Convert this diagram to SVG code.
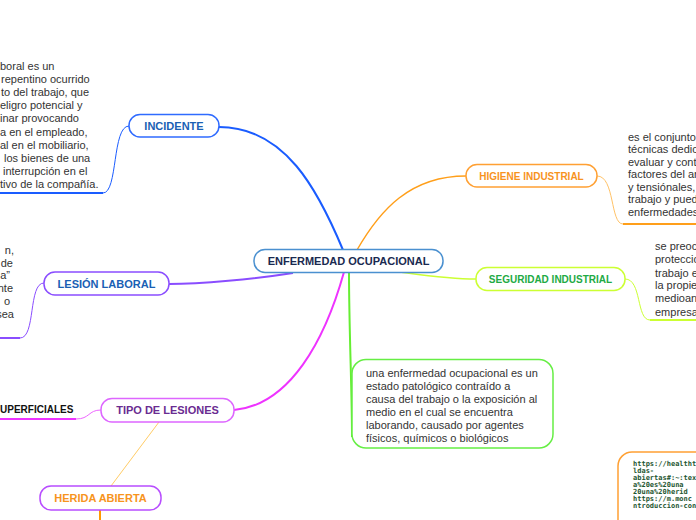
<svg xmlns="http://www.w3.org/2000/svg" width="696" height="520" viewBox="0 0 696 520">
<style>
.node{fill:#ffffff;stroke-width:1.5}
.lbl{font-family:"Liberation Sans",Arial,sans-serif;font-weight:bold;font-size:11px;text-anchor:middle}
.body{font-family:"Liberation Sans",Arial,sans-serif;font-size:11px;fill:#333333}
.url{font-family:"DejaVu Sans Mono","Liberation Mono",monospace;font-weight:bold;font-size:7px;fill:#1e5631}
.c{fill:none}
</style>
<rect width="696" height="520" fill="#ffffff"/>
<g id="connectors">
  <path class="c" d="M343,250 C318,190 285,127 219,127" stroke="#1a5cff" stroke-width="2"/>
  <path class="c" d="M129,126 C112,126 118,193 103,193" stroke="#1a5cff" stroke-width="1"/>
  <path class="c" d="M0,193 H103" stroke="#1a5cff" stroke-width="2"/>
  <path class="c" d="M293,273 C255,279 200,284 169,284" stroke="#8a4dff" stroke-width="2"/>
  <path class="c" d="M44,283 C28,283 36,338 20,338" stroke="#8a4dff" stroke-width="1"/>
  <path class="c" d="M0,338 H20" stroke="#8a4dff" stroke-width="2"/>
  <path class="c" d="M344,272 C325,340 290,405 234,410" stroke="#ee33ff" stroke-width="2"/>
  <path class="c" d="M101,410 C88,410 90,419 76,419" stroke="#ee66ff" stroke-width="1"/>
  <path class="c" d="M0,419 H76" stroke="#ee33ff" stroke-width="2"/>
  <path class="c" d="M159,422 L111,486" stroke="#ffcc66" stroke-width="1"/>
  <path class="c" d="M100,510 V520" stroke="#ff9900" stroke-width="2"/>
  <path class="c" d="M349,272 C349,330 352,390 352,437" stroke="#66ee33" stroke-width="2"/>
  <path class="c" d="M357,250 C380,210 410,176 466,176" stroke="#ff9f1a" stroke-width="1.5"/>
  <path class="c" d="M597,176 C615,176 610,224 623,224" stroke="#ffc266" stroke-width="1"/>
  <path class="c" d="M623,224 H696" stroke="#ff9f1a" stroke-width="2"/>
  <path class="c" d="M400,272 C430,276 450,279 476,279" stroke="#ccff33" stroke-width="1.5"/>
  <path class="c" d="M625,279 C642,279 636,320 650,320" stroke="#ccff33" stroke-width="1"/>
  <path class="c" d="M650,320 H696" stroke="#ccff33" stroke-width="2"/>
</g>
<g id="central">
  <rect class="node" x="254" y="249.5" width="189" height="23" rx="11" stroke="#4a90d0"/>
  <text class="lbl" x="348.5" y="265" fill="#1a2a50">ENFERMEDAD OCUPACIONAL</text>
</g>
<g id="incidente">
  <rect class="node" x="129" y="114.5" width="90" height="22.5" rx="11" stroke="#2f6bff"/>
  <text class="lbl" x="174" y="130" fill="#1a5fb4">INCIDENTE</text>
</g>
<g id="incidente-text">
  <text class="body" x="0" y="70">boral es un</text>
  <text class="body" x="1" y="83">repentino ocurrido</text>
  <text class="body" x="1" y="96">to del trabajo, que</text>
  <text class="body" x="0" y="109">eligro potencial y</text>
  <text class="body" x="0" y="122">inar provocando</text>
  <text class="body" x="0" y="136">a en el empleado,</text>
  <text class="body" x="0" y="149">al en el mobiliario,</text>
  <text class="body" x="4" y="162">los bienes de una</text>
  <text class="body" x="3" y="175">interrupción en el</text>
  <text class="body" x="0" y="188">tivo de la compañía.</text>
</g>
<g id="lesion-laboral">
  <rect class="node" x="44" y="272" width="125" height="23" rx="11" stroke="#8a4dff"/>
  <text class="lbl" x="106.5" y="287.5" fill="#1a5fb4">LESIÓN LABORAL</text>
</g>
<g id="lesion-text" style="text-anchor:end">
  <text class="body" x="14" y="254">n,</text>
  <text class="body" x="13" y="267">de</text>
  <text class="body" x="10" y="279">a”</text>
  <text class="body" x="13" y="292">nte</text>
  <text class="body" x="10" y="305">o</text>
  <text class="body" x="14" y="318">sea</text>
</g>
<g id="tipo-lesiones">
  <rect class="node" x="101" y="398.5" width="133" height="23.5" rx="11" stroke="#dd66ff"/>
  <text class="lbl" x="167.5" y="414" fill="#6a2c91">TIPO DE LESIONES</text>
</g>
<g id="superficiales">
  <text x="0" y="413" font-family="Liberation Sans, Arial, sans-serif" font-weight="bold" font-size="10px" fill="#111111">UPERFICIALES</text>
</g>
<g id="herida-abierta">
  <rect class="node" x="40" y="486" width="121" height="24" rx="11" stroke="#b84dff"/>
  <text class="lbl" x="100.5" y="502" fill="#f7941d">HERIDA ABIERTA</text>
</g>
<g id="higiene">
  <rect class="node" x="466" y="164.5" width="131" height="22.5" rx="11" stroke="#ffa033"/>
  <text class="lbl" x="531.5" y="179.5" fill="#f7931e" style="font-size:10px">HIGIENE INDUSTRIAL</text>
</g>
<g id="higiene-text">
  <text class="body" x="628" y="141">es el conjunto</text>
  <text class="body" x="628" y="153">técnicas dedic</text>
  <text class="body" x="628" y="166">evaluar y cont</text>
  <text class="body" x="628" y="178">factores del ar</text>
  <text class="body" x="628" y="191">y tensiónales,</text>
  <text class="body" x="628" y="203">trabajo y pued</text>
  <text class="body" x="628" y="216">enfermedades</text>
</g>
<g id="seguridad">
  <rect class="node" x="476" y="267.5" width="149" height="23" rx="11" stroke="#ccff33"/>
  <text class="lbl" x="550.5" y="282.5" fill="#22aa44" style="font-size:10px">SEGURIDAD INDUSTRIAL</text>
</g>
<g id="seguridad-text">
  <text class="body" x="655" y="250">se preoc</text>
  <text class="body" x="655" y="263">proteccio</text>
  <text class="body" x="655" y="277">trabajo e</text>
  <text class="body" x="655" y="289">la propie</text>
  <text class="body" x="655" y="302">medioan</text>
  <text class="body" x="655" y="316">empresa</text>
</g>
<g id="definicion">
  <rect class="node" x="352" y="359.5" width="201" height="88.5" rx="14" stroke="#66ee44"/>
  <text class="body" x="366" y="377">una enfermedad ocupacional es un</text>
  <text class="body" x="366" y="390">estado patológico contraído a</text>
  <text class="body" x="366" y="403">causa del trabajo o la exposición al</text>
  <text class="body" x="366" y="416">medio en el cual se encuentra</text>
  <text class="body" x="366" y="429">laborando, causado por agentes</text>
  <text class="body" x="366" y="442">físicos, químicos o biológicos</text>
</g>
<g id="fuentes">
  <rect class="node" x="618" y="452" width="110" height="100" rx="14" stroke="#ffa033"/>
  <text class="url" x="633" y="465.5">https://healtht</text>
  <text class="url" x="633" y="472.5">ldas-</text>
  <text class="url" x="633" y="480">abiertas#:~:text</text>
  <text class="url" x="633" y="487">a%20es%20una</text>
  <text class="url" x="633" y="494">20una%20herid</text>
  <text class="url" x="633" y="501">https://m.monc</text>
  <text class="url" x="633" y="508">ntroduccion-con</text>
</g>
</svg>
